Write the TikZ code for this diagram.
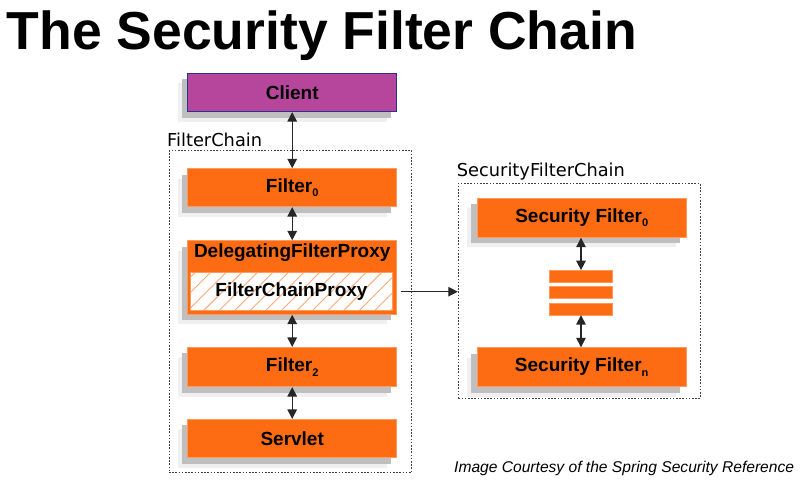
\documentclass[tikz,border=0pt]{standalone}
\usepackage{fontspec}
\setmainfont{Liberation Sans}
\newfontfamily\djv{DejaVu Sans}
\usetikzlibrary{arrows.meta,patterns.meta,shadows}
\definecolor{sorange}{HTML}{FD6C13}
\definecolor{sorangeline}{HTML}{FF9A5C}
\definecolor{hatch}{HTML}{FFA878}
\definecolor{cpurple}{HTML}{B5469C}
\definecolor{cnavy}{HTML}{2E3192}
\newcommand\sbs[1]{\raisebox{-4.5pt}{\fontsize{11}{11}\selectfont #1}}
\tikzset{
  shad/.style={
    drop shadow={shadow xshift=-10pt, shadow yshift=-10pt, fill=black!6, opacity=1},
    drop shadow={shadow xshift=-6pt, shadow yshift=-6pt, fill=black!25, opacity=1}},
  obox/.style={shad, fill=sorange, draw=sorangeline, line width=0.8pt, inner sep=0pt,
    minimum width=209pt, font=\fontsize{19}{22}\selectfont\bfseries},
  pbox/.style={shad, fill=cpurple, draw=cnavy, line width=0.8pt, inner sep=0pt,
    minimum width=209pt, minimum height=38.4pt, font=\fontsize{19}{22}\selectfont\bfseries},
  bar/.style={fill=sorange, draw=sorangeline, line width=0.6pt, inner sep=0pt,
    minimum width=63pt, minimum height=11.5pt},
  chainbox/.style={draw=black!75, line width=1pt, dash pattern=on 1.6pt off 1.6pt, inner sep=0pt},
  chainlbl/.style={anchor=base west, inner sep=0pt, font=\djv\fontsize{17.8}{20}\selectfont},
  lbl/.style={inner sep=0pt, font=\fontsize{19}{22}\selectfont\bfseries},
  darr/.style={{Triangle[width=9.5pt,length=9.5pt]}-{Triangle[width=9.5pt,length=9.5pt]}, line width=1.4pt, black!85},
  sarr/.style={-{Triangle[width=9.5pt,length=9.5pt]}, line width=1.2pt, black!85},
}
\begin{document}
\begin{tikzpicture}[x=1pt,y=-1pt]
\useasboundingbox (0,0) rectangle (812,483);

\node[anchor=base west, inner sep=0pt, font=\fontsize{53.5}{60}\selectfont\bfseries] (title) at (6.5,49.3) {The Security Filter Chain};

% FilterChain container
\node[chainbox, minimum width=242.7pt, minimum height=322pt] (fc) at (290.35,311.7) {};
\node[chainlbl] (fclbl) at (167,146) {FilterChain};

% SecurityFilterChain container
\node[chainbox, minimum width=241.7pt, minimum height=215pt] (sfc) at (579.15,290.8) {};
\node[chainlbl] (sfclbl) at (456.7,176) {SecurityFilterChain};

% left column
\node[pbox] (client) at (292.2,92.5) {Client};
\node[obox, minimum height=38pt] (f0) at (292.2,187.7) {Filter\sbs{0}};
\node[obox, minimum height=73.6pt] (dfp) at (292.2,277.5) {};
\node[lbl] (dfptext) at (292.2,252.5) {DelegatingFilterProxy};
\node[preaction={fill=white}, pattern={Lines[angle=45,distance=11pt,line width=0.9pt]}, pattern color=hatch,
      draw=sorangeline, line width=0.6pt, inner sep=0pt, minimum width=201.6pt, minimum height=38pt,
      font=\fontsize{19}{22}\selectfont\bfseries] (fcp) at (291.5,291.7) {FilterChainProxy};
\node[obox, minimum height=39.4pt] (f2) at (292.2,367) {Filter\sbs{2}};
\node[obox, minimum height=38.4pt] (servlet) at (292.2,438.5) {Servlet};

% right column
\node[obox, minimum width=208.7pt, minimum height=39pt] (sf0) at (581.7,217.8) {Security Filter\sbs{0}};
\node[obox, minimum width=208.7pt, minimum height=39pt] (sfn) at (581.7,367.2) {Security Filter\sbs{n}};
\node[bar] (bar1) at (581,276.2) {};
\node[bar] (bar2) at (581,292.5) {};
\node[bar] (bar3) at (581,309.1) {};

% connectors
\draw[darr] (client.south) -- (f0.north);
\draw[darr] (f0.south) -- (dfp.north);
\draw[darr] (dfp.south) -- (f2.north);
\draw[darr] (f2.south) -- (servlet.north);
\draw[darr] (sf0.south -| bar1.north) -- (bar1.north);
\draw[darr] (bar3.south) -- (sfn.north -| bar3.south);
\draw[sarr] ([xshift=3.5pt]dfp.east |- fcp.east) -- (sfc.west |- fcp.east);

\node[anchor=base west, inner sep=0pt, font=\itshape\fontsize{15.6}{18}\selectfont] (credit) at (454,472) {Image Courtesy of the Spring Security Reference};
\end{tikzpicture}
\end{document}
